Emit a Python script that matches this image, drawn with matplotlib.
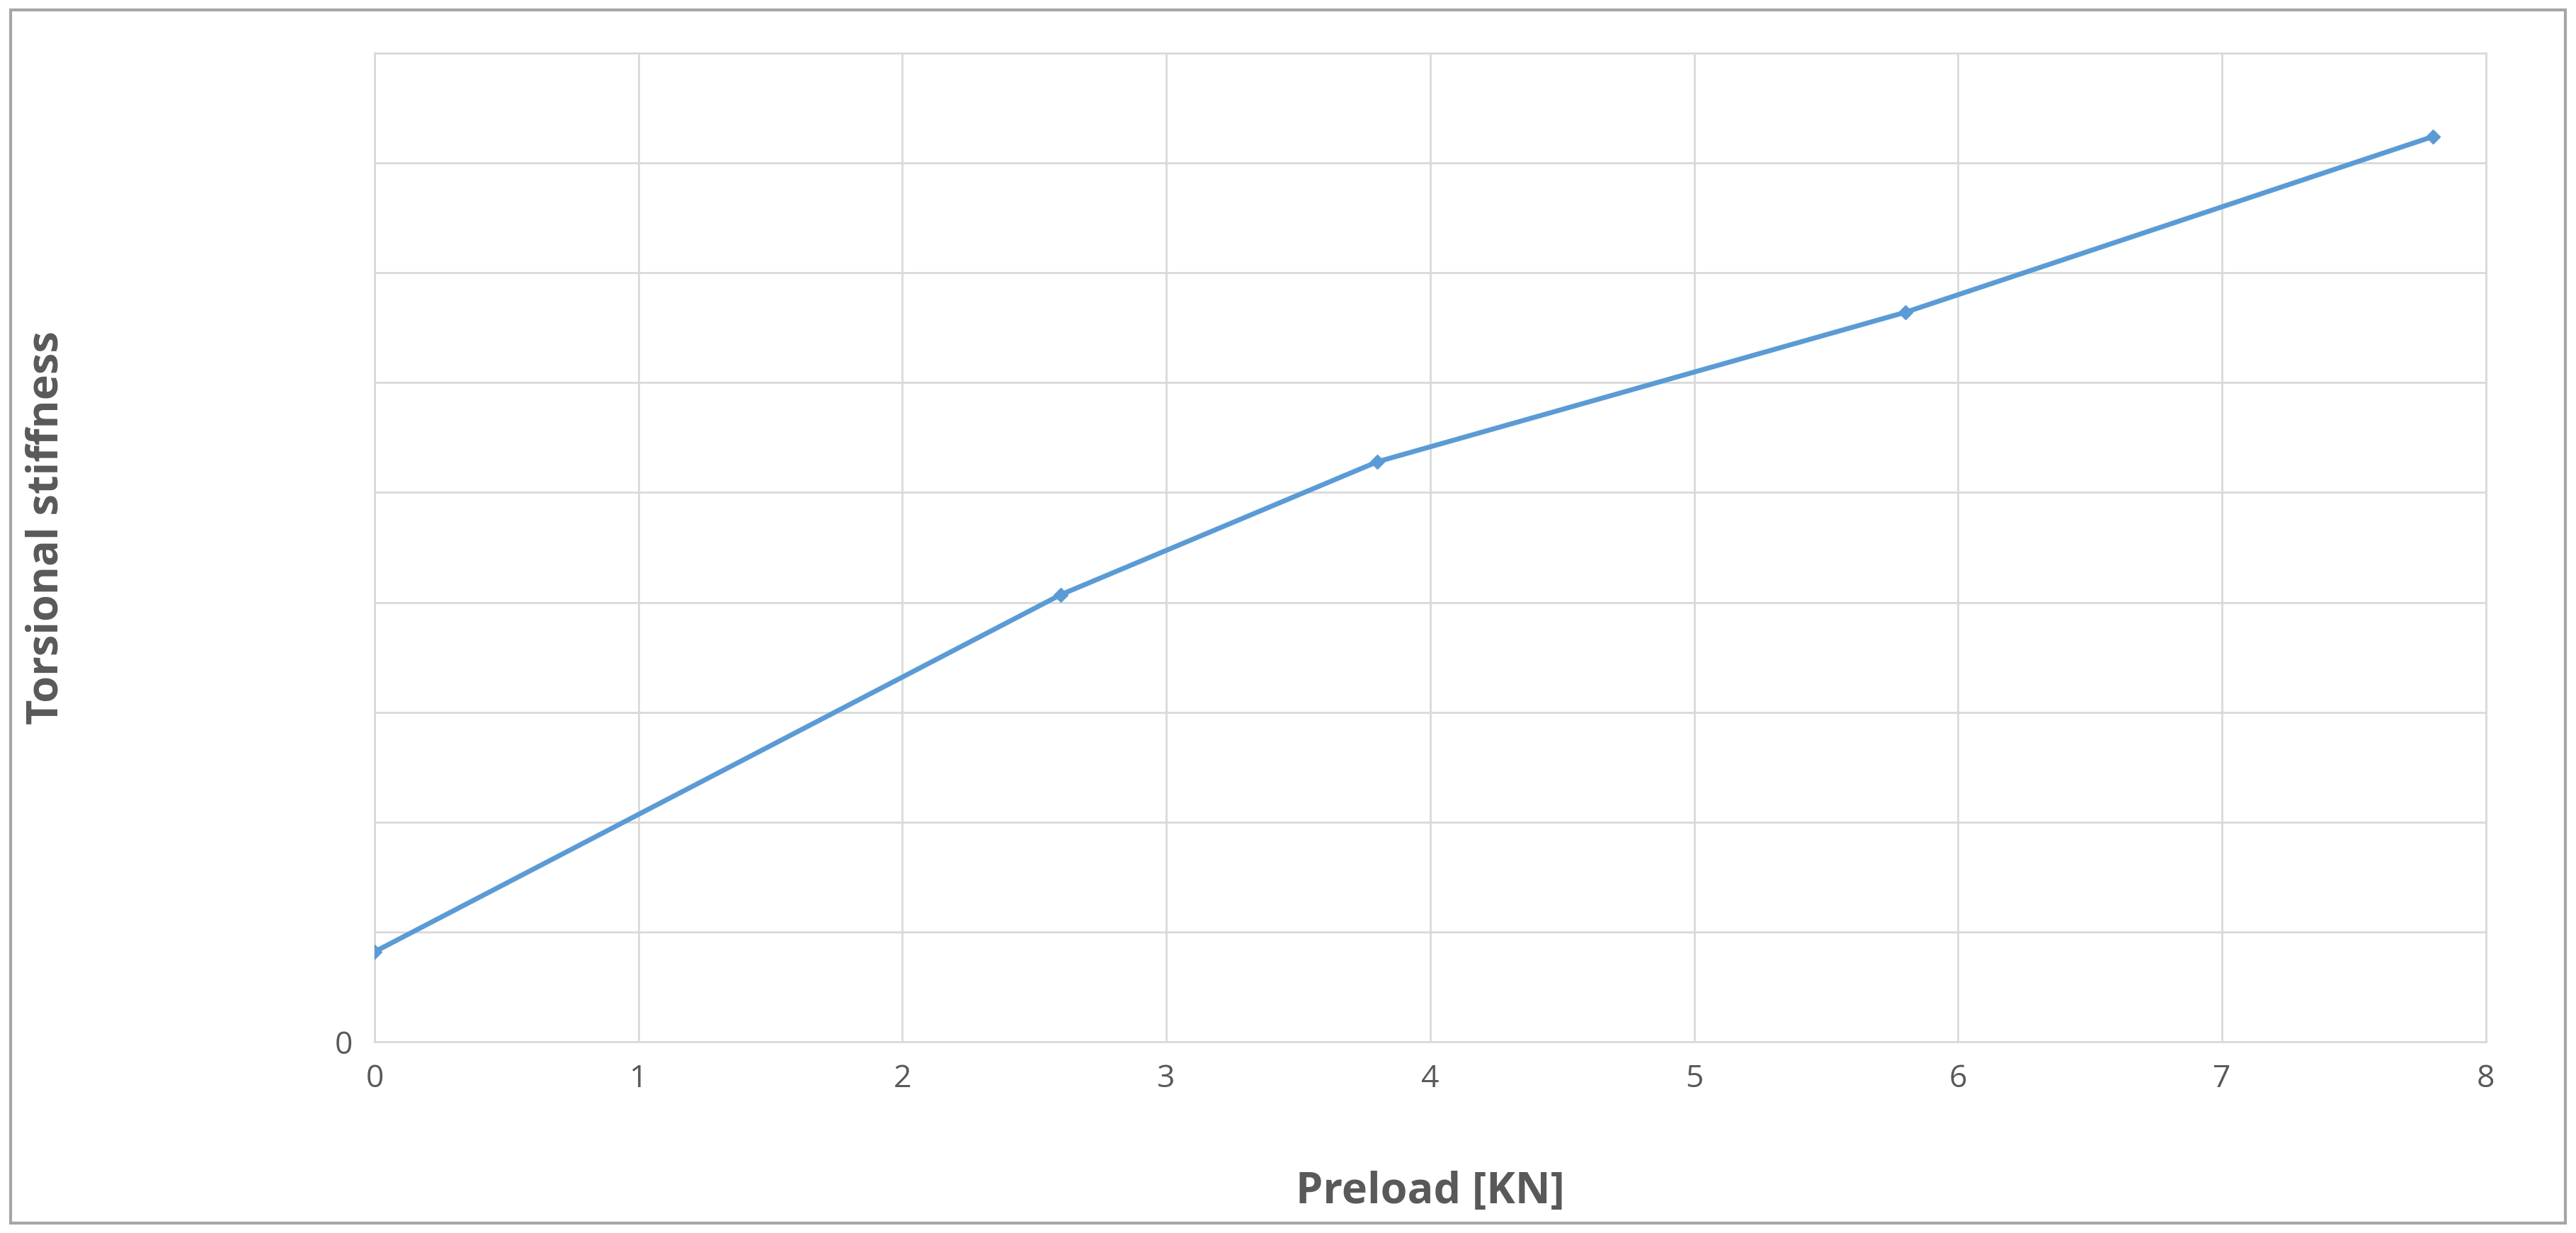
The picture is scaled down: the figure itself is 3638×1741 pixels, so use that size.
import matplotlib
matplotlib.use("Agg")
import matplotlib.pyplot as plt
from matplotlib.patches import Rectangle

plt.rcParams['font.family'] = ['Open Sans', 'DejaVu Sans']

preload = [0, 2.6, 3.8, 5.8, 7.8]
stiffness = [0.82, 4.07, 5.28, 6.64, 8.24]
xticks = [0, 1, 2, 3, 4, 5, 6, 7, 8]

fig = plt.figure(figsize=(36.38, 17.41), dpi=100)
ax = fig.add_axes([0.1454, 0.155, 0.8196, 0.802])
ax.plot(preload, stiffness, color="#5B9BD5", lw=5, marker="D", ms=10, zorder=3)
ax.set_xlim(0, 8)
ax.set_ylim(0, 9)
ax.set_xticks(xticks)
ax.set_yticks(range(10))
ax.set_yticklabels(["0"] + [""] * 9)
ax.grid(True, color="#D9D9D9", lw=2)
for s in ax.spines.values():
    s.set_color("#D9D9D9"); s.set_linewidth(2)
ax.tick_params(length=0, labelsize=32, colors="#595959", pad=22)
ax.set_xlabel("Preload [KN]", fontsize=44, fontweight="bold", color="#595959")
ax.xaxis.set_label_coords(0.5, -0.13)
ax.set_ylabel("Torsional stiffness", fontsize=44, fontweight="bold", color="#595959")
ax.yaxis.set_label_coords(-0.145, 0.52)
fig.patches.append(Rectangle((0.004, 0.008), 0.992, 0.984, transform=fig.transFigure,
                             fill=False, edgecolor="#A6A6A6", lw=3))
fig.savefig("out.png", dpi=100)
